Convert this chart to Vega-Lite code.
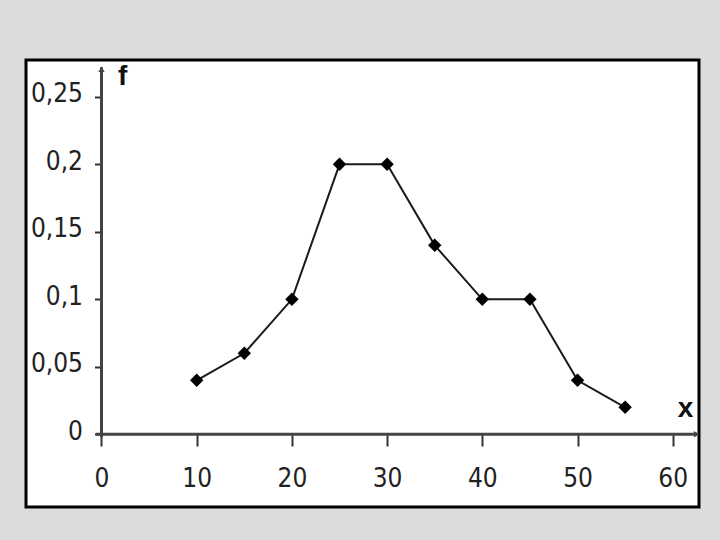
{
  "$schema": "https://vega.github.io/schema/vega-lite/v6.json",
  "autosize": "none",
  "width": 673,
  "height": 447,
  "padding": {"left": 26, "top": 60, "right": 21, "bottom": 33},
  "background": "#dcdcdc",
  "config": {
    "view": {"fill": "white", "stroke": "black", "strokeWidth": 3},
    "axis": {"labelFont": "Liberation Sans Narrow, Arial Narrow, DejaVu Sans Condensed, sans-serif", "labelFontSize": 26, "labelColor": "#222", "titleFont": "Liberation Sans, Arial, sans-serif", "titleFontSize": 28, "titleFontWeight": "bold", "titleColor": "#111", "tickColor": "#333", "tickWidth": 2, "grid": false, "domain": false}
  },
  "datasets": {
    "pts": [
      {"x": 10, "f": 0.04},
      {"x": 15, "f": 0.06},
      {"x": 20, "f": 0.1},
      {"x": 25, "f": 0.2},
      {"x": 30, "f": 0.2},
      {"x": 35, "f": 0.14},
      {"x": 40, "f": 0.1},
      {"x": 45, "f": 0.1},
      {"x": 50, "f": 0.04},
      {"x": 55, "f": 0.02}
    ],
    "axislines": [
      {"x": -0.6, "x2": 62.6, "f": 0, "f2": 0},
      {"x": 0, "x2": 0, "f": -0.002, "f2": 0.272}
    ],
    "arrows": [
      {"x": 0, "f": 0.2705, "dir": "up"},
      {"x": 62.5, "f": 0, "dir": "right"}
    ]
  },
  "layer": [
    {
      "data": {"name": "axislines"},
      "mark": {"type": "rule", "color": "#444", "strokeWidth": 3},
      "encoding": {
        "x": {"field": "x", "type": "quantitative", "scale": {"domain": [-7.93, 62.76], "nice": false, "zero": false},
          "axis": {"orient": "bottom", "offset": -73, "values": [0, 10, 20, 30, 40, 50, 60], "tickSize": 12, "labelPadding": 19, "format": "d",
            "title": "x", "titleAngle": 0, "titleX": 659, "titleY": -26, "titleAlign": "center", "titleBaseline": "middle"}},
        "x2": {"field": "x2"},
        "y": {"field": "f", "type": "quantitative", "scale": {"domain": [-0.0539, 0.2773], "nice": false, "zero": false},
          "axis": {"orient": "left", "offset": -75.5, "values": [0, 0.05, 0.1, 0.15, 0.2, 0.25], "tickSize": 7, "labelPadding": 12, "labelOffset": -3,
            "labelExpr": "replace(format(datum.value, '.2~f'), '.', ',')",
            "title": "f", "titleAngle": 0, "titleX": 16, "titleY": 16, "titleAlign": "left", "titleBaseline": "middle"}},
        "y2": {"field": "f2"}
      }
    },
    {
      "data": {"name": "arrows"},
      "mark": {"type": "point", "filled": true, "color": "#444", "size": 40, "opacity": 1},
      "encoding": {
        "x": {"field": "x", "type": "quantitative"},
        "y": {"field": "f", "type": "quantitative"},
        "shape": {"field": "dir", "type": "nominal", "scale": {"domain": ["up", "right"], "range": ["triangle-up", "triangle-right"]}, "legend": null}
      }
    },
    {
      "data": {"name": "pts"},
      "mark": {"type": "line", "color": "#1a1a1a", "strokeWidth": 2},
      "encoding": {
        "x": {"field": "x", "type": "quantitative"},
        "y": {"field": "f", "type": "quantitative"}
      }
    },
    {
      "data": {"name": "pts"},
      "mark": {"type": "point", "shape": "diamond", "filled": true, "color": "#000", "size": 180, "opacity": 1},
      "encoding": {
        "x": {"field": "x", "type": "quantitative"},
        "y": {"field": "f", "type": "quantitative"}
      }
    }
  ]
}
